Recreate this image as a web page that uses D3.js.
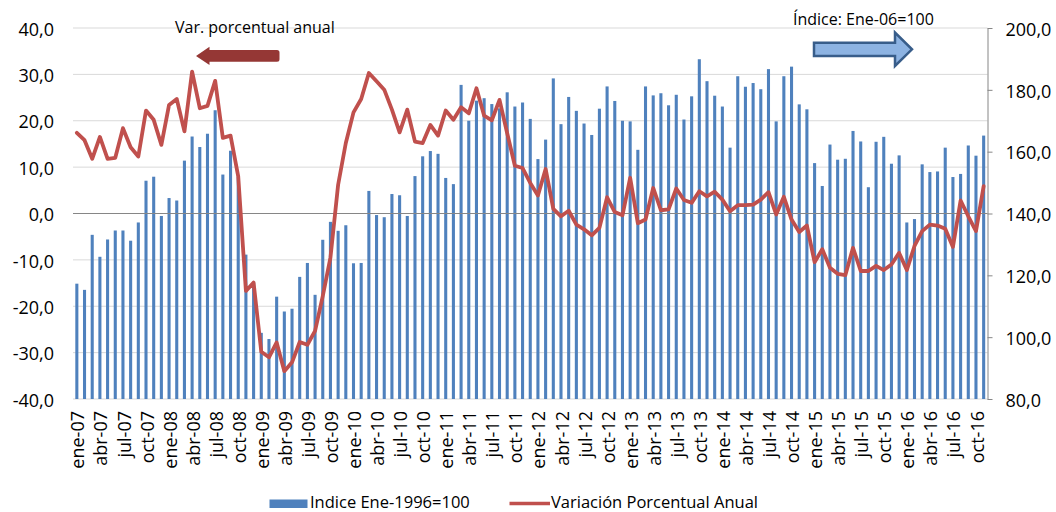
<!DOCTYPE html>
<html>
<head>
<meta charset="utf-8">
<script src="https://cdn.jsdelivr.net/npm/d3@7"></script>
<style>
  html, body { margin: 0; padding: 0; background: #ffffff; }
  svg { display: block; font-family: "Open Sans", sans-serif; }
</style>
</head>
<body>
<svg id="chart" width="1056" height="512"></svg>
<script>
// ---- DATA ----
const months = [
  "ene-07","feb-07","mar-07","abr-07","may-07","jun-07","jul-07","ago-07","sep-07","oct-07","nov-07","dic-07",
  "ene-08","feb-08","mar-08","abr-08","may-08","jun-08","jul-08","ago-08","sep-08","oct-08","nov-08","dic-08",
  "ene-09","feb-09","mar-09","abr-09","may-09","jun-09","jul-09","ago-09","sep-09","oct-09","nov-09","dic-09",
  "ene-10","feb-10","mar-10","abr-10","may-10","jun-10","jul-10","ago-10","sep-10","oct-10","nov-10","dic-10",
  "ene-11","feb-11","mar-11","abr-11","may-11","jun-11","jul-11","ago-11","sep-11","oct-11","nov-11","dic-11",
  "ene-12","feb-12","mar-12","abr-12","may-12","jun-12","jul-12","ago-12","sep-12","oct-12","nov-12","dic-12",
  "ene-13","feb-13","mar-13","abr-13","may-13","jun-13","jul-13","ago-13","sep-13","oct-13","nov-13","dic-13",
  "ene-14","feb-14","mar-14","abr-14","may-14","jun-14","jul-14","ago-14","sep-14","oct-14","nov-14","dic-14",
  "ene-15","feb-15","mar-15","abr-15","may-15","jun-15","jul-15","ago-15","sep-15","oct-15","nov-15","dic-15",
  "ene-16","feb-16","mar-16","abr-16","may-16","jun-16","jul-16","ago-16","sep-16","oct-16","nov-16"
];

// Indice (right axis)
const indexValues = [
  117.3,115.3,133.1,126.0,131.6,134.5,134.5,131.2,137.1,150.6,151.9,139.2,
  145.0,144.2,157.1,164.9,161.5,165.8,173.4,152.6,160.3,151.9,126.7,117.6,
  101.4,99.4,113.1,108.3,109.2,119.5,124.0,113.7,131.5,137.3,134.4,136.2,
  123.9,124.0,147.3,139.5,138.8,146.3,145.9,139.2,152.1,158.5,160.2,159.3,
  151.5,149.5,181.6,170.0,176.5,177.3,175.4,174.0,179.2,174.6,175.9,170.6,
  157.6,163.9,183.7,168.9,177.7,173.2,169.1,165.4,173.9,181.1,176.4,170.0,
  169.8,160.6,181.1,178.2,178.9,175.0,178.4,170.4,177.9,189.9,182.8,178.1,
  174.6,161.3,184.4,181.0,182.2,180.2,186.7,169.8,184.4,187.5,175.3,173.7,
  156.3,148.9,162.3,157.4,157.7,166.7,163.3,148.5,163.2,164.8,156.1,158.8,
  137.1,138.2,155.9,153.4,153.6,161.3,151.8,152.8,162.0,158.7,165.2
];

// Variación porcentual anual (left axis)
const varValues = [
  17.4,15.8,11.8,16.5,11.8,12.0,18.4,14.3,12.3,22.2,20.2,14.8,
  23.4,24.7,17.7,30.6,22.7,23.2,28.6,16.3,16.8,8.0,-16.7,-14.9,
  -29.8,-31.0,-27.8,-34.0,-32.1,-27.7,-28.3,-25.3,-17.8,-9.5,6.2,15.2,
  21.8,24.7,30.3,28.5,26.7,22.4,17.5,22.4,15.5,15.2,19.1,16.8,
  22.2,20.2,22.9,21.6,27.0,21.1,20.1,24.5,17.3,10.3,9.8,6.6,
  3.9,9.6,1.0,-0.6,0.6,-2.4,-3.4,-4.7,-3.1,3.5,0.3,-0.4,
  7.7,-2.1,-1.3,5.5,0.7,0.9,5.4,2.9,2.3,4.8,3.7,4.7,
  3.0,0.5,1.8,1.8,1.9,3.0,4.6,-0.2,3.6,-1.3,-4.0,-2.6,
  -10.5,-7.7,-11.7,-13.0,-13.3,-7.4,-12.4,-12.4,-11.3,-12.2,-11.0,-8.5,
  -12.2,-7.0,-3.8,-2.4,-2.6,-3.3,-7.2,2.8,-0.6,-3.8,5.9
];

const leftTicks = [-40,-30,-20,-10,0,10,20,30,40];
const rightTicks = [80,100,120,140,160,180,200];
const tickMonths = ["ene","abr","jul","oct"];

const legendLabels = ["Indice Ene-1996=100", "Variación Porcentual Anual"];
const noteLeft = "Var. porcentual anual";
const noteRight = "Índice: Ene-06=100";

// ---- LAYOUT ----
const plot = { left: 73, right: 987.5, top: 28, bottom: 399 };
const colors = { bar: "#4F81BD", line: "#C0504D", grid: "#D9D9D9", axis: "#868686",
                 redArrow: "#953735", blueFill: "#8DB3E2", blueStroke: "#385D8A", text: "#000000" };

const svg = d3.select("#chart");
const loc = d3.formatLocale({ decimal: ",", thousands: ".", grouping: [3], currency: ["", ""], minus: "-" });
const fmt = loc.format(".1f");

const x = d3.scaleBand().domain(months).range([plot.left, plot.right])
  .paddingInner(0.6).paddingOuter(0.3);
const yL = d3.scaleLinear().domain([-40, 40]).range([plot.bottom, plot.top]);
const yR = d3.scaleLinear().domain([80, 200]).range([plot.bottom, plot.top]);

// gridlines
svg.append("g").selectAll("line").data(leftTicks.filter(d => d !== 0)).join("line")
  .attr("x1", plot.left).attr("x2", plot.right)
  .attr("y1", d => yL(d)).attr("y2", d => yL(d))
  .attr("stroke", colors.grid).attr("stroke-width", 1);

// bars
svg.append("g").selectAll("rect").data(indexValues).join("rect")
  .attr("x", (d, i) => x(months[i]))
  .attr("width", x.bandwidth())
  .attr("y", d => yR(d))
  .attr("height", d => plot.bottom - yR(d))
  .attr("fill", colors.bar);

// zero line (category axis)
svg.append("line")
  .attr("x1", plot.left).attr("x2", plot.right)
  .attr("y1", yL(0)).attr("y2", yL(0))
  .attr("stroke", colors.axis).attr("stroke-width", 1.2);

// line
const line = d3.line()
  .x((d, i) => x(months[i]) + x.bandwidth() / 2)
  .y(d => yL(d));
svg.append("path").datum(varValues)
  .attr("d", line)
  .attr("fill", "none")
  .attr("stroke", colors.line)
  .attr("stroke-width", 3.8)
  .attr("stroke-linejoin", "round")
  .attr("stroke-linecap", "round");

// left axis
const gL = svg.append("g").attr("transform", `translate(${plot.left},0)`)
  .call(d3.axisLeft(yL).tickValues(leftTicks).tickFormat(fmt).tickSize(0).tickPadding(19));
gL.select(".domain").remove();
gL.selectAll("text").attr("font-size", 18).attr("fill", colors.text).attr("font-family", "Open Sans").attr("dy", "0.4em");

// right axis
const gR = svg.append("g").attr("transform", `translate(${plot.right},0)`)
  .call(d3.axisRight(yR).tickValues(rightTicks).tickFormat(fmt).tickSizeInner(5).tickSizeOuter(0).tickPadding(13));
gR.select(".domain").attr("stroke", colors.axis);
gR.selectAll(".tick line").attr("stroke", colors.axis);
gR.selectAll("text").attr("font-size", 18).attr("fill", colors.text).attr("font-family", "Open Sans").attr("dy", "0.4em");

// bottom category labels
const gB = svg.append("g").attr("transform", `translate(0,${plot.bottom})`)
  .call(d3.axisBottom(x).tickValues(months.filter(m => tickMonths.includes(m.slice(0, 3)))).tickSize(0));
gB.select(".domain").remove();
gB.selectAll("text")
  .attr("transform", "rotate(-90)")
  .attr("text-anchor", "end")
  .attr("x", -12).attr("y", 0).attr("dy", "0.42em")
  .attr("font-size", 18).attr("fill", colors.text).attr("font-family", "Open Sans");

// annotations
svg.append("text").attr("x", 175).attr("y", 33).attr("font-size", 16).attr("fill", colors.text).text(noteLeft);
svg.append("text").attr("x", 793).attr("y", 25).attr("font-size", 16).attr("fill", colors.text).text(noteRight);

// red arrow (pointing left)
svg.append("path")
  .attr("d", "M196,56 L209.5,46.7 L209.5,50 L277,50 Q279.5,50 279.5,52.5 L279.5,59.2 Q279.5,61.7 277,61.7 L209.5,61.7 L209.5,65 Z")
  .attr("fill", colors.redArrow);

// blue arrow (pointing right)
svg.append("path")
  .attr("d", "M814,42.7 L895,42.7 L895,32.5 L912,49.3 L895,66 L895,56 L814,56 Z")
  .attr("fill", colors.blueFill).attr("stroke", colors.blueStroke).attr("stroke-width", 2.5)
  .attr("stroke-linejoin", "miter");

// legend
const lg = svg.append("g");
lg.append("rect").attr("x", 269.5).attr("y", 499.5).attr("width", 38).attr("height", 8.5).attr("fill", colors.bar);
lg.append("text").attr("x", 310).attr("y", 502.5).attr("dy", "0.35em").attr("font-size", 16.5).attr("fill", colors.text).text(legendLabels[0]);
lg.append("line").attr("x1", 509.5).attr("x2", 550).attr("y1", 503.5).attr("y2", 503.5)
  .attr("stroke", colors.line).attr("stroke-width", 3.5);
lg.append("text").attr("x", 551).attr("y", 502.5).attr("dy", "0.35em").attr("font-size", 16.5).attr("fill", colors.text).text(legendLabels[1]);
</script>
</body>
</html>
